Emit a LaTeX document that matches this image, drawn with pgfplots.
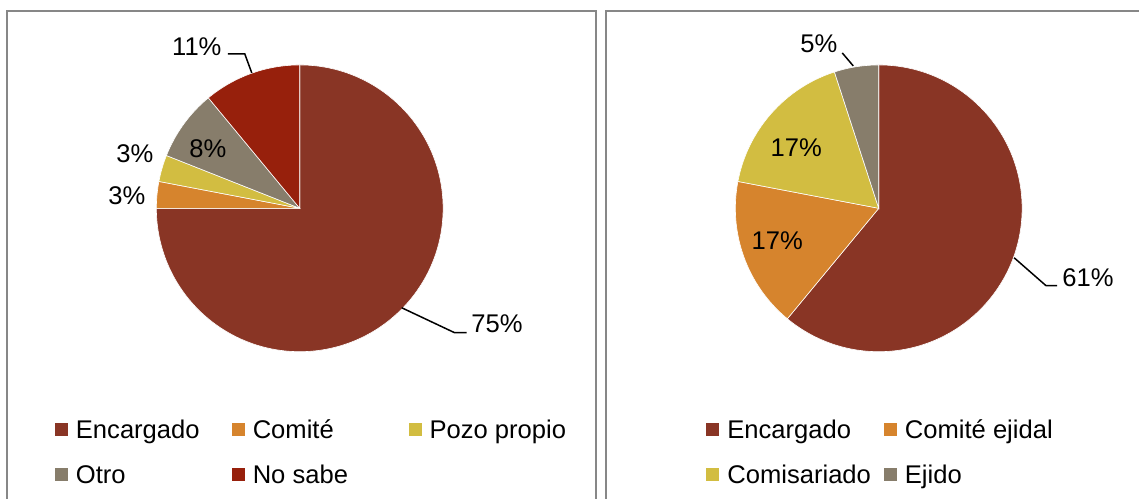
\documentclass[border=0pt]{standalone}
\usepackage{fontspec}
\setmainfont{Liberation Sans}
\usepackage{pgfplots}
\usepackage{pgfplotstable}
\pgfplotsset{compat=1.18}

\definecolor{cEnc}{RGB}{137,53,37}
\definecolor{cCom}{RGB}{214,132,45}
\definecolor{cPozo}{RGB}{210,189,65}
\definecolor{cOtro}{RGB}{135,125,107}
\definecolor{cNo}{RGB}{151,32,12}
\definecolor{brd}{RGB}{135,135,135}

% shares in percent, slices run clockwise from 12 o'clock
\pgfplotstableread{
share colour
75 cEnc
3  cCom
3  cPozo
8  cOtro
11 cNo
}\leftdata

\pgfplotstableread{
share colour
61 cEnc
17 cCom
17 cPozo
5  cOtro
}\rightdata

% #1 table, #2/#3 centre in axis units
\newcommand\drawpie[3]{%
  \pgfplotstablegetrowsof{#1}%
  \pgfmathtruncatemacro\lastrow{\pgfplotsretval-1}%
  \xdef\angstart{90}%
  \pgfplotsforeachungrouped \r in {0,...,\lastrow}{%
    \pgfplotstablegetelem{\r}{share}\of{#1}\let\sh\pgfplotsretval
    \pgfplotstablegetelem{\r}{colour}\of{#1}\let\col\pgfplotsretval
    \pgfmathsetmacro\angend{\angstart-3.6*\sh}%
    \edef\temp{\noexpand\fill[\col, draw=white, line width=0.3pt]
      (axis cs:#2,#3) -- ++(\angstart:71.75pt)
      arc[start angle=\angstart, end angle=\angend, radius=71.75pt] -- cycle;}%
    \temp
    \xdef\angstart{\angend}%
  }%
}

\pgfplotsset{
  legend image code/.code={\fill[#1, draw=none] (0pt,-3.25pt) rectangle (6.5pt,3.25pt);},
  panel/.style={
    width=570pt, height=249.5pt, scale only axis,
    xmin=0, xmax=1140, ymin=0, ymax=499,
    hide axis, clip=false,
    legend style={draw=none, fill=none, inner sep=0pt, outer sep=0pt,
      nodes={inner sep=0pt, text height=11pt, text depth=1.8pt},
      row sep=9.7pt, cells={anchor=west},
      /tikz/every odd column/.style={column sep=4pt},
      /tikz/every even column/.style={column sep=6.5pt}},
  },
}

\begin{document}
\fontsize{12.8}{15}\selectfont
\begin{tikzpicture}
% left panel
\begin{axis}[panel, legend columns=3,
  legend style={at={(axis cs:55,82.3)}, anchor=north west}]
\path (axis cs:0,0) rectangle (axis cs:1140,499);
\drawpie{\leftdata}{300}{290.5}
\draw[brd, line width=1pt] (axis cs:7,0) -- (axis cs:7,488) -- (axis cs:597,488) -- (axis cs:597,0);
\node[inner sep=0pt] at (axis cs:197,452) {11\%};
\node[inner sep=0pt] at (axis cs:208,350) {8\%};
\node[inner sep=0pt] at (axis cs:135,345) {3\%};
\node[inner sep=0pt] at (axis cs:127,303) {3\%};
\node[inner sep=0pt] at (axis cs:497.5,174.5) {75\%};
\draw[line width=0.75pt] (axis cs:228,445) -- (axis cs:245,445) -- (axis cs:252,426);
\draw[line width=0.75pt] (axis cs:402,191) -- (axis cs:455,166) -- (axis cs:467,166);
\addlegendimage{fill=cEnc}\addlegendentry{\makebox[71.5pt][l]{Encargado}}
\addlegendimage{fill=cCom}\addlegendentry{\makebox[71.5pt][l]{Comité}}
\addlegendimage{fill=cPozo}\addlegendentry{Pozo propio}
\addlegendimage{fill=cOtro}\addlegendentry{\makebox[71.5pt][l]{Otro}}
\addlegendimage{fill=cNo}\addlegendentry{\makebox[71.5pt][l]{No sabe}}
\end{axis}
% right panel
\begin{axis}[panel, legend columns=2,
  legend style={at={(axis cs:707,82.3)}, anchor=north west}]
\drawpie{\rightdata}{879.5}{290.5}
\draw[brd, line width=1pt] (axis cs:607,0) -- (axis cs:607,488) -- (axis cs:1140,488);
\node[inner sep=0pt] at (axis cs:819.5,455) {5\%};
\node[inner sep=0pt] at (axis cs:797,351) {17\%};
\node[inner sep=0pt] at (axis cs:778,258) {17\%};
\node[inner sep=0pt] at (axis cs:1089,221.5) {61\%};
\draw[line width=0.75pt] (axis cs:843,446) -- (axis cs:854,433);
\draw[line width=0.75pt] (axis cs:1015,241) -- (axis cs:1047,213) -- (axis cs:1058,213);
\addlegendimage{fill=cEnc}\addlegendentry{Encargado}
\addlegendimage{fill=cCom}\addlegendentry{Comité ejidal}
\addlegendimage{fill=cPozo}\addlegendentry{Comisariado}
\addlegendimage{fill=cOtro}\addlegendentry{Ejido}
\end{axis}
\end{tikzpicture}
\end{document}
